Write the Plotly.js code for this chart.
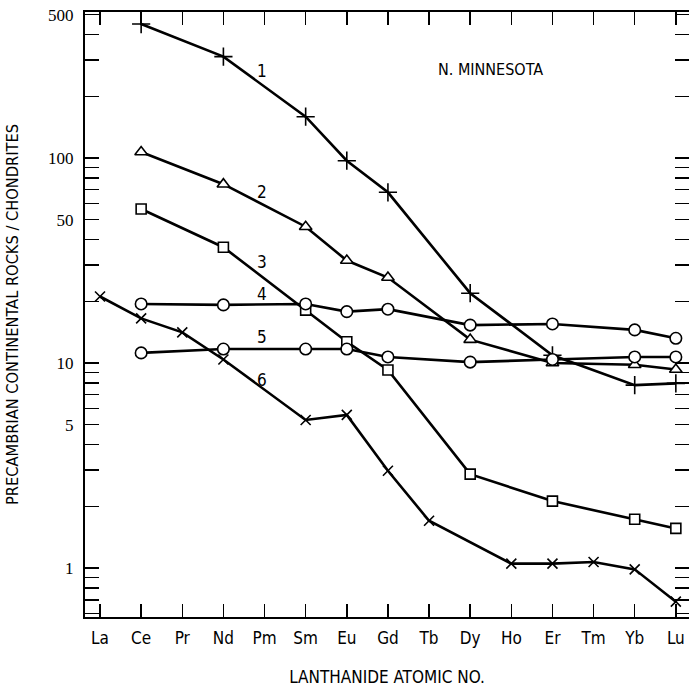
<!DOCTYPE html>
<html>
<head>
<meta charset="utf-8">
<script src="https://cdn.plot.ly/plotly-3.0.1.min.js"></script>
<style>html,body{margin:0;padding:0;background:#fff;}#chart{width:689px;height:687px;}</style>
</head>
<body>
<div id="chart"></div>
<script>
// Categories (lanthanides)
const elements = ["La","Ce","Pr","Nd","Pm","Sm","Eu","Gd","Tb","Dy","Ho","Er","Tm","Yb","Lu"];

// Series values (rock / chondrite), null = not measured
const s1 = [null, 450, null, 312, null, 159, 97, 68, null, 21.9, null, 10.9, null, 7.8, 7.95];
const s2 = [null, 107, null, 74.5, null, 46.2, 31.6, 26.1, null, 13.0, null, 10.0, null, 9.8, 9.3];
const s3 = [null, 56.4, null, 36.7, null, 18.1, 12.7, 9.25, null, 2.87, null, 2.12, null, 1.73, 1.56];
const s4 = [null, 19.4, null, 19.2, null, 19.4, 17.8, 18.3, null, 15.3, null, 15.5, null, 14.5, 13.2];
const s5 = [null, 11.2, null, 11.7, null, 11.7, 11.7, 10.7, null, 10.1, null, 10.4, null, 10.7, 10.7];
const s6 = [21.1, 16.5, 14.1, 10.4, null, 5.27, 5.58, 2.98, 1.70, null, 1.05, 1.05, 1.07, 0.985, 0.685];

const seriesLabels = ["1","2","3","4","5","6"];
const labelY = [266, 68.5, 31, 21.7, 13.4, 8.3];

// Axis ticks
const yTickVals = [1, 5, 10, 50, 100, 500];
const yTickText = ["1", "5", "10", "50", "100", "500"];
const yMinorVals = [0.6,0.7,0.8,0.9,2,3,4,6,7,8,9,20,30,40,60,70,80,90,200,300,400];

const seriesList = [s1, s2, s3, s4, s5, s6];
const symbols = ["cross-thin-open","triangle-up","square","circle","circle","x-thin-open"];
const sizes = [13, 11, 10, 11.5, 11.5, 10];

const xIdx = elements.map((e, i) => i);

const traces = seriesList.map((s, k) => ({
  x: xIdx, y: s, type: "scatter", mode: "lines+markers", connectgaps: true,
  line: {color: "#000", width: 2.6},
  marker: {symbol: symbols[k], size: sizes[k], color: "#fff",
           line: {color: "#000", width: 1.6}},
  showlegend: false, hoverinfo: "skip"
}));
traces[0].marker.color = "#000";
traces[5].marker.color = "#000";

const narrow = "Liberation Sans Narrow, DejaVu Sans Condensed, sans-serif";

const annotations = seriesLabels.map((t, k) => ({
  x: 3.95, y: Math.log10(labelY[k]), xref: "x", yref: "y", text: t, showarrow: false,
  font: {family: narrow, size: 17, color: "#000"}
}));
annotations.push({
  x: 9.5, y: Math.log10(270), xref: "x", yref: "y", text: "N. MINNESOTA", showarrow: false,
  font: {family: narrow, size: 16, color: "#000"}
});

const layout = {
  width: 689, height: 687,
  margin: {l: 85, r: 0, t: 12, b: 70},
  paper_bgcolor: "#fff", plot_bgcolor: "#fff",
  font: {color: "#000"},
  xaxis: {
    range: [-0.365, 14.32], tickmode: "array", tickvals: xIdx, ticktext: elements,
    ticks: "inside", ticklen: 13, tickwidth: 1.5, tickcolor: "#000",
    showline: true, linewidth: 2, linecolor: "#000", mirror: "ticks",
    showgrid: false, zeroline: false, ticklabelstandoff: 5,
    tickfont: {family: narrow, size: 17},
    title: {text: "LANTHANIDE ATOMIC NO.", standoff: 26,
            font: {family: narrow, size: 17}}
  },
  yaxis: {
    type: "log", range: [-0.239, 2.712], tickmode: "array", tickvals: yTickVals, ticktext: yTickText,
    ticks: "inside", ticklen: 14, tickwidth: 1.5, tickcolor: "#000",
    minor: {tickmode: "array", tickvals: yMinorVals, ticks: "inside", ticklen: 14, tickwidth: 1.5, tickcolor: "#000", showgrid: false},
    showline: true, linewidth: 2, linecolor: "#000", mirror: "ticks",
    showgrid: false, zeroline: false, ticklabelstandoff: 6,
    tickfont: {family: "Liberation Serif, serif", size: 17},
    title: {text: "PRECAMBRIAN CONTINENTAL ROCKS / CHONDRITES", standoff: 25,
            font: {family: narrow, size: 16.3}}
  },
  annotations: annotations
};

Plotly.newPlot("chart", traces, layout, {displayModeBar: false, staticPlot: true});
</script>
</body>
</html>
